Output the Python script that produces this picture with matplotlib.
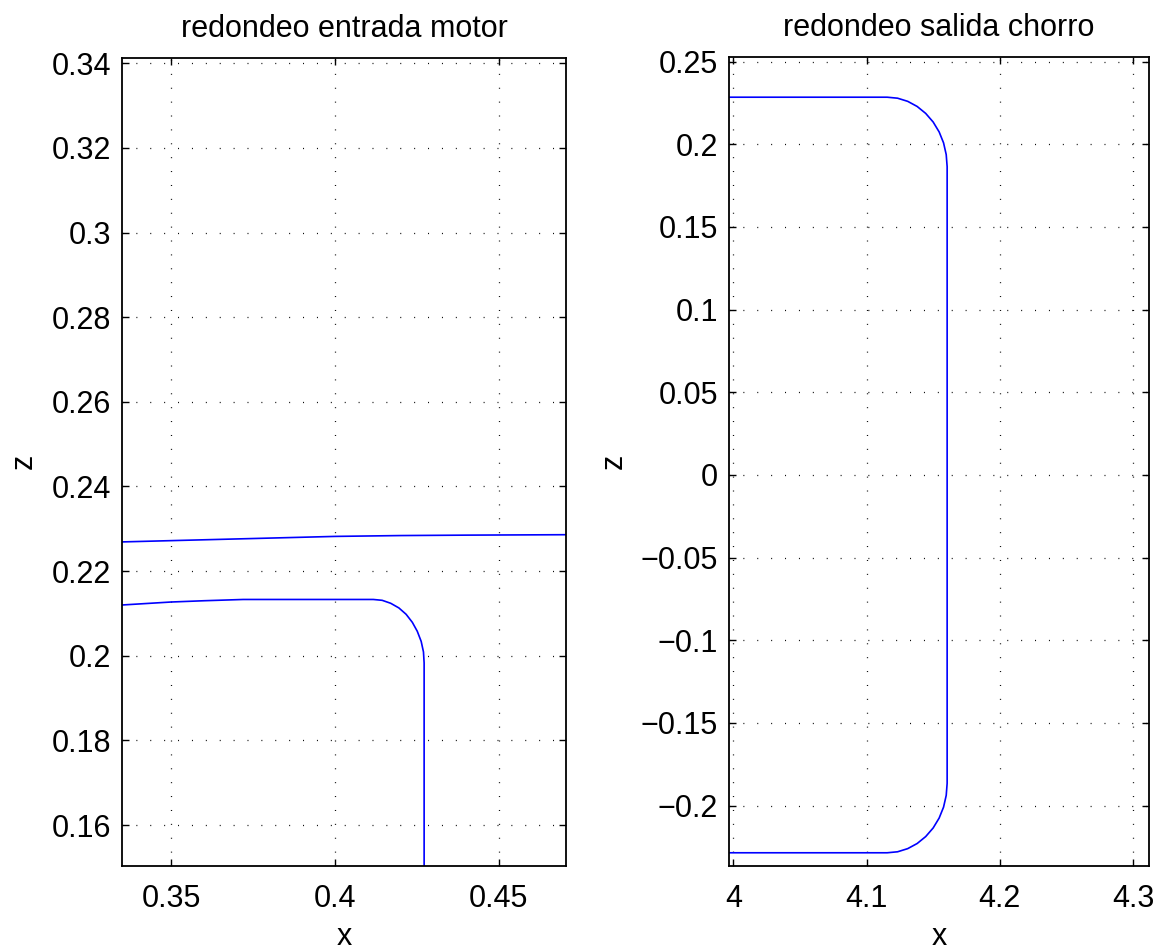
import matplotlib
matplotlib.use("Agg")
import matplotlib.pyplot as plt

plt.rcParams['font.family'] = ['Liberation Sans', 'DejaVu Sans']
plt.rcParams['lines.scale_dashes'] = False

# Left panel: engine inlet rounding (x, z)
left_outer_x = [0.330, 0.3351, 0.350, 0.365, 0.380, 0.400, 0.420, 0.440, 0.470, 0.480]
left_outer_z = [0.2268, 0.2269, 0.2272, 0.2275, 0.2278, 0.2282, 0.2284, 0.2285, 0.2286, 0.2286]

left_inner_x = [0.330, 0.3351, 0.350, 0.360, 0.372, 0.400, 0.4117, 0.4144, 0.4170,
                0.4195, 0.4217, 0.4236, 0.4251, 0.4263, 0.4270, 0.4272, 0.4272]
left_inner_z = [0.2118, 0.2120, 0.2127, 0.2130, 0.2133, 0.2133, 0.2133, 0.2131, 0.2124,
                0.2113, 0.2098, 0.2079, 0.2058, 0.2034, 0.2009, 0.1983, 0.140]

# Right panel: jet exit rounding (x, z)
right_x = [3.990, 4.1155, 4.1233, 4.1309, 4.1380, 4.1444, 4.1500, 4.1545, 4.1578, 4.1598, 4.1605,
           4.1605, 4.1598, 4.1578, 4.1545, 4.1500, 4.1444, 4.1380, 4.1309, 4.1233, 4.1155, 3.990]
right_z = [0.2285, 0.2285, 0.2279, 0.2260, 0.2229, 0.2187, 0.2135, 0.2075, 0.2009, 0.1938, 0.1865,
           -0.1865, -0.1938, -0.2009, -0.2075, -0.2135, -0.2187, -0.2229, -0.2260, -0.2279, -0.2285, -0.2285]

left_xticks = [0.35, 0.40, 0.45]
left_xticklabels = ['0.35', '0.4', '0.45']
left_yticks = [0.16, 0.18, 0.20, 0.22, 0.24, 0.26, 0.28, 0.30, 0.32, 0.34]
left_yticklabels = ['0.16', '0.18', '0.2', '0.22', '0.24', '0.26', '0.28', '0.3', '0.32', '0.34']

right_xticks = [4.0, 4.1, 4.2, 4.3]
right_xticklabels = ['4', '4.1', '4.2', '4.3']
right_yticks = [-0.2, -0.15, -0.1, -0.05, 0.0, 0.05, 0.1, 0.15, 0.2, 0.25]
right_yticklabels = ['\u22120.2', '\u22120.15', '\u22120.1', '\u22120.05', '0', '0.05',
                     '0.1', '0.15', '0.2', '0.25']

W, H = 1160, 951
fig = plt.figure(figsize=(W / 100, H / 100), dpi=100)

def frac(l, r, t, b):
    return [l / W, 1 - b / H, (r - l) / W, (b - t) / H]

ax1 = fig.add_axes(frac(122.3, 565.7, 57.7, 865.7))
ax2 = fig.add_axes(frac(729.3, 1149.0, 56.7, 866.0))

FS = 22

def style(ax, xt, xtl, yt, ytl, xlim, ylim, title):
    ax.set_xlim(*xlim)
    ax.set_ylim(*ylim)
    ax.set_xticks(xt)
    ax.set_xticklabels(xtl)
    ax.set_yticks(yt)
    ax.set_yticklabels(ytl)
    ax.tick_params(direction='in', length=5, width=1.0, top=True, right=True,
                   labelsize=FS, colors='black')
    ax.tick_params(axis='y', pad=8)
    ax.tick_params(axis='x', pad=13)
    for s in ax.spines.values():
        s.set_linewidth(1.3)
        s.set_color('black')
    ax.grid(True, color='black', linestyle=(0, (0.7, 9.3)), linewidth=0.9)
    ax.set_axisbelow(True)
    ax.set_title(title, fontsize=FS, pad=15)
    ax.set_xlabel('x', fontsize=FS, labelpad=6)
    ax.set_ylabel('z', fontsize=FS, labelpad=9)

ax1.plot(left_outer_x, left_outer_z, color='#0000ff', linewidth=1.2)
ax1.plot(left_inner_x, left_inner_z, color='#0000ff', linewidth=1.2)
style(ax1, left_xticks, left_xticklabels, left_yticks, left_yticklabels,
      (0.3351, 0.4704), (0.1504, 0.3413), 'redondeo entrada motor')

ax2.plot(right_x, right_z, color='#0000ff', linewidth=1.2)
style(ax2, right_xticks, right_xticklabels, right_yticks, right_yticklabels,
      (3.997, 4.312), (-0.2365, 0.253), 'redondeo salida chorro')

fig.savefig('out.png', dpi=100)
